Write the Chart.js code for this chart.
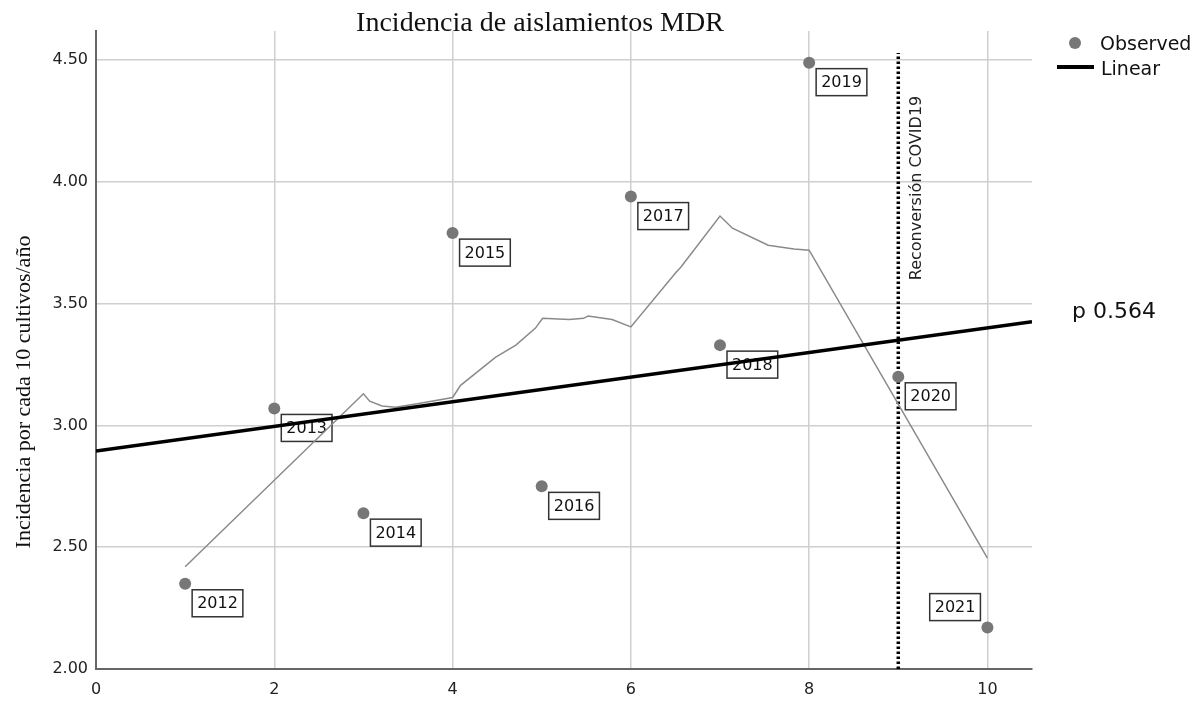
<!DOCTYPE html>
<html>
<head>
<meta charset="utf-8">
<script src="https://cdn.jsdelivr.net/npm/chart.js@4.4.1/dist/chart.umd.min.js"></script>
<style>
  html, body { margin: 0; padding: 0; background: #fff; }
  #wrap { width: 1201px; height: 702px; }
</style>
</head>
<body>
<div id="wrap"><canvas id="chart" width="1201" height="702"></canvas></div>
<script>
// Observed incidence (per 10 cultures / year)
const years = ['2012', '2013', '2014', '2015', '2016', '2017', '2018', '2019', '2020', '2021'];
const yearIndex = [1, 2, 3, 4, 5, 6, 7, 8, 9, 10];
const incidence = [2.35, 3.07, 2.64, 3.79, 2.75, 3.94, 3.33, 4.49, 3.20, 2.17];

// thin smoothed fit line
const fitX = [1, 3, 3.07, 3.21, 3.36, 3.62, 4.0, 4.09, 4.48, 4.71, 4.93, 5.01, 5.31, 5.47, 5.52, 5.79, 6.0, 6.51, 6.56, 7.0, 7.14, 7.54, 7.83, 8.0, 10];
const fitY = [2.42, 3.13, 3.10, 3.08, 3.075, 3.09, 3.115, 3.165, 3.28, 3.33, 3.40, 3.44, 3.435, 3.44, 3.45, 3.435, 3.405, 3.63, 3.65, 3.86, 3.81, 3.74, 3.725, 3.72, 2.455];

// COVID reconversion marker
const covidX = 9;
const covidSpan = [2.0, 4.53];
const covidText = 'Reconversión COVID19';
const pText = 'p 0.564';

// axis ranges / ticks
const xRange = [0, 10.5];
const yRange = [2.0, 4.62];
const xStep = 2;
const yStep = 0.5;

// linear regression on the observed points
const n = yearIndex.length;
const mx = yearIndex.reduce((a, b) => a + b, 0) / n;
const my = incidence.reduce((a, b) => a + b, 0) / n;
let sxy = 0, sxx = 0;
yearIndex.forEach((x, i) => { sxy += (x - mx) * (incidence[i] - my); sxx += (x - mx) * (x - mx); });
const slope = sxy / sxx;
const icpt = my - slope * mx;

const annotate = {
    id: 'annotate',
    beforeDatasetsDraw(chart) {
        // year boxes sit under the lines
        const ctx = chart.ctx;
        const meta = chart.getDatasetMeta(3);
        ctx.save();
        ctx.font = '16px "DejaVu Sans"';
        ctx.textAlign = 'center';
        ctx.textBaseline = 'middle';
        meta.data.forEach((pt, i) => {
            const w = ctx.measureText(years[i]).width + 10, h = 27;
            let bx = pt.x + 7, by = pt.y + 6;
            if (i === years.length - 1) { bx = pt.x - 7 - w; by = pt.y - 7 - h; }
            ctx.fillStyle = '#fff';
            ctx.fillRect(bx, by, w, h);
            ctx.strokeStyle = '#333';
            ctx.lineWidth = 1.5;
            ctx.strokeRect(bx, by, w, h);
            ctx.fillStyle = '#111';
            ctx.fillText(years[i], bx + w / 2, by + h / 2 + 1);
        });
        ctx.restore();
    },
    afterDraw(chart) {
        const ctx = chart.ctx;
        ctx.save();
        ctx.fillStyle = '#111';

        // title
        ctx.font = '28px "Liberation Serif"';
        ctx.textAlign = 'center';
        ctx.textBaseline = 'alphabetic';
        ctx.fillText('Incidencia de aislamientos MDR', 540, 31);

        // y axis title
        ctx.save();
        ctx.translate(30, 392);
        ctx.rotate(-Math.PI / 2);
        ctx.font = '22px "Liberation Serif"';
        ctx.fillText('Incidencia por cada 10 cultivos/año', 0, 0);
        ctx.restore();

        // covid label
        ctx.save();
        ctx.translate(chart.scales.x.getPixelForValue(covidX) + 23, 188);
        ctx.rotate(-Math.PI / 2);
        ctx.font = '16px "DejaVu Sans"';
        ctx.fillStyle = '#222';
        ctx.fillText(covidText, 0, 0);
        ctx.restore();

        // legend
        ctx.textAlign = 'left';
        ctx.fillStyle = '#777';
        ctx.beginPath();
        ctx.arc(1075, 43, 6, 0, Math.PI * 2);
        ctx.fill();
        ctx.fillStyle = '#111';
        ctx.font = '19px "DejaVu Sans"';
        ctx.fillText('Observed', 1100, 50);
        ctx.strokeStyle = '#000';
        ctx.lineWidth = 4;
        ctx.beginPath();
        ctx.moveTo(1057, 67);
        ctx.lineTo(1094, 67);
        ctx.stroke();
        ctx.fillText('Linear', 1101, 75);

        // p value
        ctx.font = '22px "DejaVu Sans"';
        ctx.fillText(pText, 1072, 318);
        ctx.restore();
    }
};

Chart.defaults.font.family = '"DejaVu Sans"';

new Chart(document.getElementById('chart'), {
    type: 'scatter',
    data: {
        datasets: [
            {
                label: 'Reconversión',
                data: covidSpan.map(y => ({ x: covidX, y: y })),
                showLine: true,
                borderColor: '#000',
                borderWidth: 3.5,
                borderDash: [2.5, 2.5],
                pointRadius: 0,
                order: 4
            },
            {
                label: 'Fit',
                data: fitX.map((x, i) => ({ x: x, y: fitY[i] })),
                showLine: true,
                borderColor: '#8a8a8a',
                borderWidth: 1.5,
                pointRadius: 0,
                tension: 0,
                order: 3
            },
            {
                label: 'Linear',
                data: xRange.map(x => ({ x: x, y: icpt + slope * x })),
                showLine: true,
                borderColor: '#000',
                borderWidth: 3.5,
                pointRadius: 0,
                order: 2
            },
            {
                label: 'Observed',
                data: yearIndex.map((x, i) => ({ x: x, y: incidence[i] })),
                pointRadius: 6,
                pointBackgroundColor: '#777',
                pointBorderWidth: 0,
                order: 1
            }
        ]
    },
    options: {
        responsive: false,
        animation: false,
        events: [],
        layout: { padding: { left: 0, top: 31, right: 169, bottom: 0 } },
        plugins: {
            legend: { display: false },
            title: { display: false },
            tooltip: { enabled: false }
        },
        scales: {
            x: {
                type: 'linear',
                min: xRange[0],
                max: xRange[1],
                afterFit(s) { s.height = 33; },
                border: { color: '#666', width: 2 },
                grid: { color: '#cfcfcf', lineWidth: 1.5, drawTicks: false },
                ticks: {
                    stepSize: xStep,
                    includeBounds: false,
                    color: '#222',
                    font: { size: 16 },
                    padding: 11,
                    maxRotation: 0
                }
            },
            y: {
                type: 'linear',
                min: yRange[0],
                max: yRange[1],
                afterFit(s) { s.width = 96; },
                border: { color: '#666', width: 2 },
                grid: { color: '#cfcfcf', lineWidth: 1.5, drawTicks: false },
                ticks: {
                    stepSize: yStep,
                    includeBounds: false,
                    color: '#222',
                    font: { size: 16 },
                    padding: 8,
                    callback: v => v.toFixed(2)
                }
            }
        }
    },
    plugins: [annotate]
});
</script>
</body>
</html>
